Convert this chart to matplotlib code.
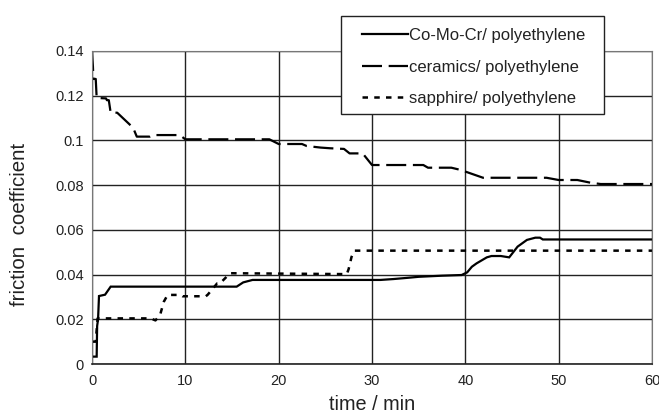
import matplotlib
matplotlib.use("Agg")
import matplotlib.pyplot as plt
from matplotlib.patches import Rectangle

plt.rcParams['font.family'] = ['Liberation Sans', 'DejaVu Sans']

# Co-Mo-Cr / polyethylene (solid)
comocr_t = [0, 0.5, 0.55, 0.65, 0.75, 1.4, 2.0, 15.5, 16.2, 17.2, 30.9, 32.3, 33.7, 35.0,
            37.5, 39.6, 40.2, 40.7, 41.2, 42.3, 42.8, 43.8, 44.7, 45.6, 46.6, 47.5, 48.0, 48.3, 60]
comocr_mu = [0.0033, 0.0033, 0.017, 0.020, 0.0304, 0.031, 0.0346, 0.0346, 0.0365, 0.0376,
             0.0376, 0.038, 0.0385, 0.039, 0.0395, 0.0398, 0.041, 0.0435, 0.045, 0.0477,
             0.0483, 0.0483, 0.0477, 0.0525, 0.0555, 0.0565, 0.0565, 0.0557, 0.0557]

# ceramics / polyethylene (dashed)
ceramics_t = [0, 0.05, 0.1, 0.15, 0.4, 0.5, 1.5, 1.6, 1.8, 2.0, 2.7, 4.4, 4.8, 6.2, 6.5, 9.4,
              10.0, 19.0, 20.0, 22.5, 23.0, 24.5, 25.5, 27.0, 27.6, 29.0, 30.0, 32.0, 35.5,
              36.0, 38.5, 39.5, 41.9, 48.7, 50.0, 52.0, 53.4, 54.5, 60]
ceramics_mu = [0.14, 0.136, 0.133, 0.1275, 0.1275, 0.119, 0.1188, 0.118, 0.118, 0.1124,
               0.1124, 0.1057, 0.1017, 0.1017, 0.1024, 0.1024, 0.1005, 0.1005, 0.0984,
               0.0984, 0.0975, 0.0968, 0.0965, 0.0962, 0.0942, 0.0942, 0.089, 0.089, 0.089,
               0.0878, 0.0878, 0.0868, 0.0833, 0.0833, 0.0823, 0.0823, 0.0811, 0.0805, 0.0805]

# sapphire / polyethylene (dotted)
sapphire_t = [0, 0.4, 0.6, 6.3, 6.8, 7.3, 7.7, 8.1, 9.5, 9.7, 12.2, 12.4, 13.4, 13.7, 14.8,
              27.3, 27.5, 27.8, 28.1, 60]
sapphire_mu = [0.01, 0.01, 0.0204, 0.0204, 0.0195, 0.022, 0.0279, 0.0309, 0.0309, 0.0303,
               0.0303, 0.031, 0.036, 0.036, 0.0406, 0.0402, 0.0425, 0.0478, 0.0507, 0.0507]

labels = ['Co-Mo-Cr/ polyethylene', 'ceramics/ polyethylene', 'sapphire/ polyethylene']
x_ticks = [0, 10, 20, 30, 40, 50, 60]
y_ticks = [0, 0.02, 0.04, 0.06, 0.08, 0.1, 0.12, 0.14]
y_ticklabels = ['0', '0.02', '0.04', '0.06', '0.08', '0.1', '0.12', '0.14']

W, H = 659, 416
fig = plt.figure(figsize=(W / 100, H / 100), dpi=100)
ax = fig.add_axes([92 / W, 1 - 364 / H, (652 - 92) / W, (364 - 51) / H])

l1, = ax.plot(comocr_t, comocr_mu, color='black', lw=1.6, solid_joinstyle='miter')
l2, = ax.plot(ceramics_t, ceramics_mu, color='black', lw=1.6, linestyle=(0, (9, 3)))
l3, = ax.plot(sapphire_t, sapphire_mu, color='black', lw=1.8, linestyle=(0, (2.2, 2.5)))

ax.set_xlim(0, 60)
ax.set_ylim(0, 0.14)
ax.set_xticks(x_ticks)
ax.set_yticks(y_ticks)
ax.set_yticklabels(y_ticklabels)
ax.tick_params(length=0, labelsize=10.5, colors='#222222')
ax.tick_params(axis='x', pad=7)
ax.tick_params(axis='y', pad=6)
ax.grid(True, color='#222222', lw=1.0)
ax.set_axisbelow(True)
for side in ['top', 'right', 'left']:
    ax.spines[side].set_color('#777777')
ax.spines['bottom'].set_color('#222222')
ax.spines['bottom'].set_linewidth(1.2)

fig.text(372 / W, 1 - 405 / H, 'time / min', ha='center', va='center', fontsize=14.3, color='#222222')
fig.text(20 / W, 1 - 224 / H, 'friction  coefficient', ha='center', va='center',
         rotation=90, fontsize=14.8, color='#222222')

# legend box drawn by hand so the padding matches
box = Rectangle((341 / W, 1 - 114 / H), (604 - 341) / W, (114 - 16) / H,
                transform=fig.transFigure, facecolor='white', edgecolor='#222222',
                lw=1.0, zorder=5)
fig.patches.append(box)
leg = fig.legend([l1, l2, l3], labels, loc='upper left',
                 bbox_to_anchor=(362 / W, 1 - 28 / H), bbox_transform=fig.transFigure,
                 fontsize=12, frameon=False, handlelength=2.75, handletextpad=0.1,
                 labelspacing=1.0, borderpad=0, borderaxespad=0)
leg.set_zorder(6)
for t in leg.get_texts():
    t.set_color('#222222')

fig.savefig('out.png', dpi=100)
